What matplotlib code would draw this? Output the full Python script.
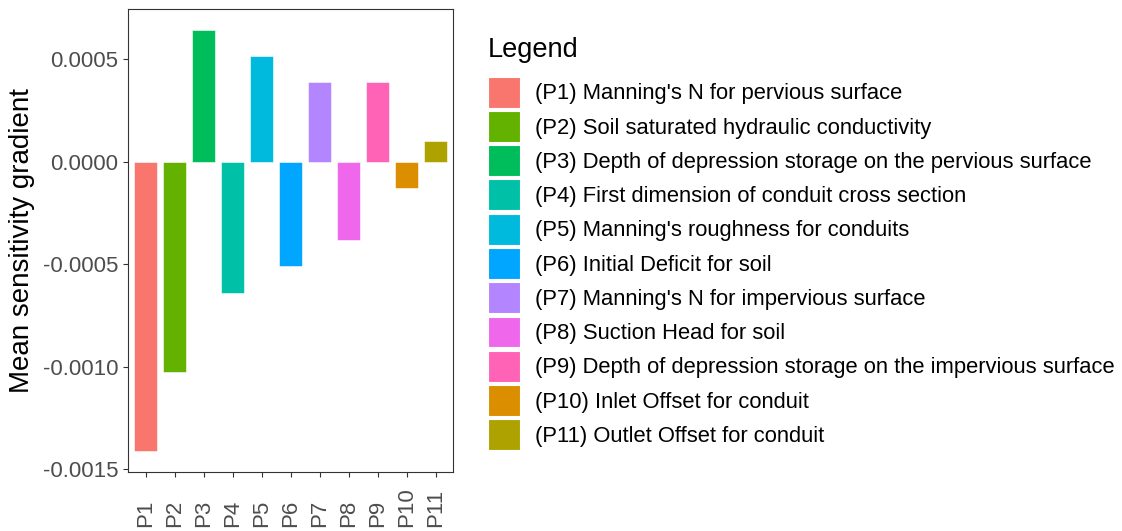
import matplotlib
matplotlib.use("Agg")
import matplotlib.pyplot as plt
from matplotlib.patches import Patch

plt.rcParams['font.family'] = ['Liberation Sans', 'DejaVu Sans']

# Parameter codes, descriptions and mean sensitivity gradients
params = ["P1", "P2", "P3", "P4", "P5", "P6", "P7", "P8", "P9", "P10", "P11"]
descriptions = [
    "Manning's N for pervious surface",
    "Soil saturated hydraulic conductivity",
    "Depth of depression storage on the pervious surface",
    "First dimension of conduit cross section",
    "Manning's roughness for conduits",
    "Initial Deficit for soil",
    "Manning's N for impervious surface",
    "Suction Head for soil",
    "Depth of depression storage on the impervious surface",
    "Inlet Offset for conduit",
    "Outlet Offset for conduit",
]
gradients = [-0.00141, -0.001024, 0.00064, -0.00064, 0.000513, -0.000511,
             0.000386, -0.000381, 0.000386, -0.000129, 0.000101]
colors = ["#F8766D", "#64B200", "#00BD5C", "#00C1A7", "#00BADE", "#00A6FF",
          "#B385FF", "#EF67EB", "#FF63B6", "#DB8E00", "#AEA200"]
yticks = [-0.0015, -0.0010, -0.0005, 0.0000, 0.0005]
ytick_labels = ["-0.0015", "-0.0010", "-0.0005", "0.0000", "0.0005"]

W, H = 1122, 531
fig = plt.figure(figsize=(W / 100, H / 100), dpi=100)
ax = fig.add_axes([128.3 / W, 1 - 471.7 / H, (453.3 - 128.3) / W, (471.7 - 9.3) / H])

xpos = list(range(1, len(params) + 1))
ax.bar(xpos, gradients, width=0.8, color=colors, edgecolor="white", linewidth=0.4)

ax.set_xlim(0.4, len(params) + 0.6)
span = max(gradients) - min(gradients)
ax.set_ylim(min(gradients) - 0.05 * span, max(gradients) + 0.05 * span)

ax.set_yticks(yticks)
ax.set_yticklabels(ytick_labels)
ax.set_xticks(xpos)
ax.set_xticklabels(params, rotation=90)

tick_color = "#333333"
label_color = "#4D4D4D"
ax.tick_params(axis="both", direction="out", length=3.6, width=0.8,
               color=tick_color, labelcolor=label_color, labelsize=16)
ax.tick_params(axis="y", pad=3.6)
ax.tick_params(axis="x", pad=36.2)
for lab in ax.get_xticklabels():
    lab.set_verticalalignment("bottom")
    lab.set_horizontalalignment("center")

for sp in ax.spines.values():
    sp.set_color(tick_color)
    sp.set_linewidth(0.8)

ax.set_ylabel("Mean sensitivity gradient", fontsize=20, color="black")
ax.yaxis.set_label_coords((22 - 128.3) / (453.3 - 128.3), 0.5)
ax.yaxis.label.set_verticalalignment("center")

# Legend: title drawn as its own text, keys and labels below it
fig.text(488 / W, 1 - 50 / H, "Legend", fontsize=19.6, color="black",
         ha="left", va="center")
handles = [Patch(facecolor=c, edgecolor="white", linewidth=0.8) for c in colors]
labels = [f"({p}) {d}" for p, d in zip(params, descriptions)]
leg = fig.legend(handles, labels, loc="upper left",
                 bbox_to_anchor=(488 / W, 1 - 76.7 / H), frameon=False,
                 fontsize=15.8, handlelength=1.44, handleheight=1.794,
                 labelspacing=0.15, handletextpad=0.68,
                 borderpad=0, borderaxespad=0)

fig.savefig("out.png", dpi=100)
